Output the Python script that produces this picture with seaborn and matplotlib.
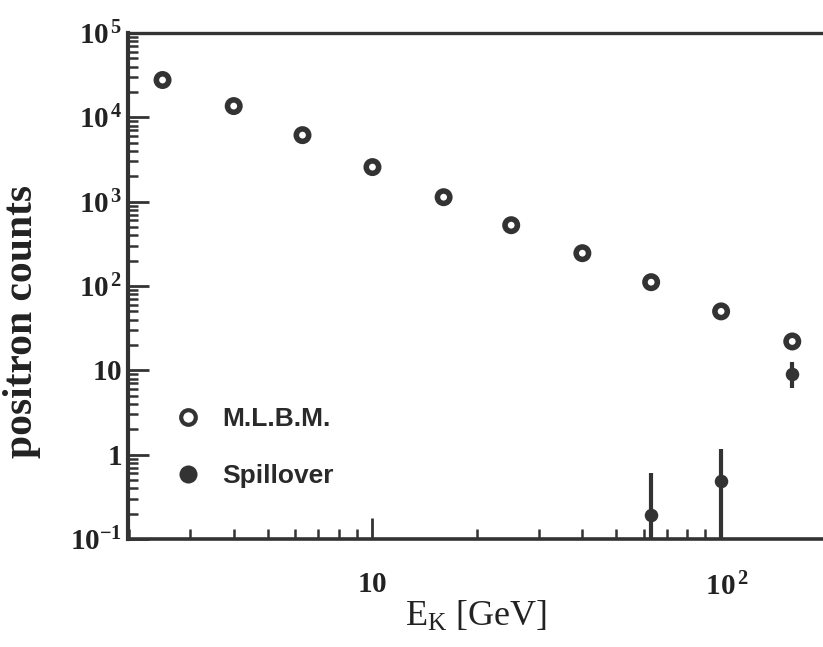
import matplotlib
matplotlib.use("Agg")
import matplotlib.pyplot as plt
from matplotlib.lines import Line2D
from matplotlib.ticker import LogLocator, NullFormatter, FixedLocator
import seaborn as sns
import numpy as np
import pandas as pd

# ---- data ----
energy = [2.5, 4.0, 6.3, 10.0, 16.0, 25.0, 40.0, 63.0, 100.0, 160.0]
mlbm_counts = [27700, 13600, 6150, 2570, 1130, 526, 245, 111, 50, 22]

spill_energy = [63.0, 100.0, 160.0]
spill_counts = [0.19, 0.49, 9.1]
spill_upper = [0.61, 1.18, 12.4]
spill_lower = [0.01, 0.01, 6.1]

ytick_vals = [0.1, 1, 10, 100, 1000, 10000, 100000]
ytick_labels = [r"$\mathbf{10}^{\mathbf{-1}}$", r"$\mathbf{1}\quad$", r"$\mathbf{10}\quad$",
                r"$\mathbf{10}^{\,\mathbf{2}}$", r"$\mathbf{10}^{\,\mathbf{3}}$",
                r"$\mathbf{10}^{\,\mathbf{4}}$", r"$\mathbf{10}^{\,\mathbf{5}}$"]
xtick_vals = [10, 100]
xtick_labels = [r"$\mathbf{10}$", r"$\;\;\mathbf{10}^{\,\mathbf{2}}$"]

legend_labels = ["M.L.B.M.", "Spillover"]

# ---- style ----
sns.set_theme(style="ticks")
ink = "#333333"
plt.rcParams["font.family"] = ["Liberation Serif", "DejaVu Serif"]
plt.rcParams["mathtext.fontset"] = "custom"
plt.rcParams["mathtext.rm"] = "Liberation Serif"
plt.rcParams["mathtext.bf"] = "Liberation Serif:bold"
plt.rcParams["mathtext.it"] = "Liberation Serif:italic"

fig = plt.figure(figsize=(8.23, 6.47), dpi=100)
ax = fig.add_axes([128/823, 108/647, 1 - 128/823, (539-33)/647])

df = pd.DataFrame({"E": energy, "N": mlbm_counts})
sp = pd.DataFrame({"E": spill_energy, "N": spill_counts,
                   "lo": spill_lower, "hi": spill_upper})

yerr = np.array([sp["N"] - sp["lo"], sp["hi"] - sp["N"]])
ax.errorbar(sp["E"], sp["N"], yerr=yerr, fmt="none", ecolor=ink,
            elinewidth=3.0, capsize=0, zorder=2)
sns.scatterplot(data=sp, x="E", y="N", ax=ax, marker="o", s=95,
                color=ink, edgecolor=ink, linewidth=0, zorder=3)
sns.scatterplot(data=df, x="E", y="N", ax=ax, marker="o", s=80,
                facecolor="none", edgecolor=ink, linewidth=4.0, zorder=3)

ax.set_xscale("log")
ax.set_yscale("log")
ax.set_xlim(1.99, 196)
ax.set_ylim(0.1, 1e5)

ax.yaxis.set_major_locator(FixedLocator(ytick_vals))
ax.set_yticklabels(ytick_labels)
ax.yaxis.set_minor_locator(LogLocator(base=10, subs=np.arange(2, 10), numticks=100))
ax.yaxis.set_minor_formatter(NullFormatter())
ax.xaxis.set_major_locator(FixedLocator(xtick_vals))
ax.set_xticklabels(xtick_labels)
ax.xaxis.set_minor_locator(LogLocator(base=10, subs=np.arange(2, 10), numticks=100))
ax.xaxis.set_minor_formatter(NullFormatter())

ax.tick_params(axis="both", which="major", direction="in", length=15,
               width=2.0, color=ink, labelsize=21, labelcolor="#222222")
ax.tick_params(axis="both", which="minor", direction="in", length=7,
               width=1.8, color=ink)
ax.tick_params(axis="y", which="both", pad=4, right=False)
ax.tick_params(axis="x", which="both", pad=24, top=False)

for s in ["left", "bottom", "top"]:
    ax.spines[s].set_color(ink)
ax.spines["left"].set_linewidth(3.0)
ax.spines["bottom"].set_linewidth(2.6)
ax.spines["top"].set_linewidth(2.4)
ax.spines["right"].set_visible(False)

ax.set_xlabel(r"E$_{\mathrm{K}}$ [GeV]", fontsize=26, color="#222222")
ax.set_ylabel("positron counts", fontsize=30, fontweight="bold", color="#222222")
ax.xaxis.set_label_coords(0.5, -0.12)
ax.yaxis.set_label_coords(-0.125, 0.43)

handles = [
    Line2D([], [], ls="none", marker="o", ms=10.5, mfc="none", mec=ink, mew=3.0),
    Line2D([], [], ls="none", marker="o", ms=13, mfc=ink, mec=ink, mew=0),
]
leg = ax.legend(handles, legend_labels, loc="lower left",
                bbox_to_anchor=(0.048, 0.08), frameon=False,
                prop={"family": ["Liberation Sans", "DejaVu Sans"],
                      "weight": "bold", "size": 19},
                handletextpad=0.7, labelspacing=1.25, handlelength=1.2,
                borderaxespad=0)
for t in leg.get_texts():
    t.set_color("#2a2a2a")

fig.savefig("out.png", dpi=100)
